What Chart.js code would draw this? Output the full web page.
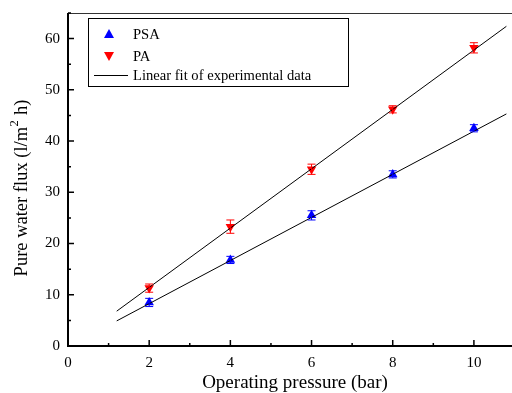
<!DOCTYPE html>
<html>
<head>
<meta charset="utf-8">
<script src="https://cdn.jsdelivr.net/npm/chart.js@4.4.1/dist/chart.umd.min.js"></script>
<style>
  html, body { margin: 0; padding: 0; background: #fff; overflow: hidden; }
  #wrap { width: 520px; height: 393px; }
</style>
</head>
<body>
<div id="wrap"><canvas id="chart" width="520" height="393"></canvas></div>
<script>
const pressure = [2, 4, 6, 8, 10];
const fluxPSA = [8.5, 16.8, 25.5, 33.5, 42.5];
const errPSA = [0.8, 0.7, 0.9, 0.7, 0.7];
const fluxPA = [11.3, 23.3, 34.5, 46.2, 58.2];
const errPA = [0.8, 1.3, 1.0, 0.7, 1.0];

// linear fits, end points of the drawn lines
const fitX = [1.2, 10.8];
const fitPSA = [4.9, 45.3];
const fitPA = [6.8, 62.4];

const xTicks = [0, 2, 4, 6, 8, 10];
const yTicks = [0, 10, 20, 30, 40, 50, 60];

const serif = "'Liberation Serif', 'DejaVu Serif', serif";

const pts = (xs, ys) => xs.map((x, i) => ({ x: x, y: ys[i] }));

// error bars + inward ticks + frame + legend box + axis titles
const extras = {
  id: 'extras',
  afterDatasetsDraw(chart) {
    const ctx = chart.ctx;
    const xs = chart.scales.x, ys = chart.scales.y;
    const bars = [[fluxPSA, errPSA, '#0000ff'], [fluxPA, errPA, '#ff0000']];
    ctx.save();
    ctx.lineWidth = 1;
    bars.forEach(([vals, errs, col]) => {
      ctx.strokeStyle = col;
      pressure.forEach((p, i) => {
        const px = xs.getPixelForValue(p);
        const top = ys.getPixelForValue(vals[i] + errs[i]);
        const bot = ys.getPixelForValue(vals[i] - errs[i]);
        ctx.beginPath();
        ctx.moveTo(px, top); ctx.lineTo(px, bot);
        ctx.moveTo(px - 4, top); ctx.lineTo(px + 4, top);
        ctx.moveTo(px - 4, bot); ctx.lineTo(px + 4, bot);
        ctx.stroke();
      });
    });
    ctx.restore();
  },
  afterDraw(chart) {
    const ctx = chart.ctx;
    const a = chart.chartArea;
    const xs = chart.scales.x, ys = chart.scales.y;
    ctx.save();
    // frame
    ctx.lineWidth = 1;
    ctx.strokeStyle = '#333';
    ctx.beginPath();
    ctx.moveTo(a.left, a.top + 0.5); ctx.lineTo(a.right, a.top + 0.5);
    ctx.lineTo(a.right - 0.5, a.bottom);
    ctx.stroke();
    ctx.strokeStyle = '#000';
    ctx.lineWidth = 2;
    ctx.beginPath();
    ctx.moveTo(a.left, a.top); ctx.lineTo(a.left, a.bottom); ctx.lineTo(a.right, a.bottom);
    ctx.stroke();
    // ticks pointing inward
    ctx.lineWidth = 1.5;
    ctx.beginPath();
    xTicks.forEach(t => {
      const px = xs.getPixelForValue(t);
      ctx.moveTo(px, a.bottom); ctx.lineTo(px, a.bottom - 6);
      const pm = xs.getPixelForValue(t + 1);
      ctx.moveTo(pm, a.bottom); ctx.lineTo(pm, a.bottom - 3);
    });
    yTicks.forEach(t => {
      const py = ys.getPixelForValue(t);
      ctx.moveTo(a.left, py); ctx.lineTo(a.left + 6, py);
      const pm = ys.getPixelForValue(t + 5);
      ctx.moveTo(a.left, pm); ctx.lineTo(a.left + 3, pm);
    });
    ctx.stroke();

    // axis titles
    ctx.fillStyle = '#000';
    ctx.textBaseline = 'middle';
    ctx.textAlign = 'center';
    ctx.font = '19px ' + serif;
    ctx.fillText('Operating pressure (bar)', 295, 383);

    ctx.save();
    ctx.translate(22, 188);
    ctx.rotate(-Math.PI / 2);
    const mainFont = '18.5px ' + serif, supFont = '12.5px ' + serif;
    const p1 = 'Pure water flux (l/m', p2 = '2', p3 = ' h)';
    ctx.font = mainFont;
    const w1 = ctx.measureText(p1).width, w3 = ctx.measureText(p3).width;
    ctx.font = supFont;
    const w2 = ctx.measureText(p2).width;
    let cx = -(w1 + w2 + w3 + 1) / 2;
    ctx.textAlign = 'left';
    ctx.font = mainFont;
    ctx.fillText(p1, cx, 0);
    cx += w1 + 0.5;
    ctx.font = supFont;
    ctx.fillText(p2, cx, -7);
    cx += w2 + 0.5;
    ctx.font = mainFont;
    ctx.fillText(p3, cx, 0);
    ctx.restore();

    // legend box
    const bx = 88, by = 18, bw = 260, bh = 68;
    ctx.fillStyle = '#fff';
    ctx.fillRect(bx, by, bw, bh);
    ctx.lineWidth = 1;
    ctx.strokeStyle = '#000';
    ctx.strokeRect(bx + 0.5, by + 0.5, bw, bh);
    ctx.font = '14.6px ' + serif;
    ctx.textBaseline = 'middle';
    ctx.textAlign = 'left';
    const rows = [
      { y: 34, label: 'PSA', kind: 'up', col: '#0000ff' },
      { y: 56, label: 'PA', kind: 'down', col: '#ff0000' },
      { y: 75, label: 'Linear fit of experimental data', kind: 'line', col: '#000' }
    ];
    rows.forEach(r => {
      ctx.fillStyle = r.col;
      if (r.kind === 'line') {
        ctx.strokeStyle = '#000';
        ctx.lineWidth = 1;
        ctx.beginPath(); ctx.moveTo(94, r.y + 0.5); ctx.lineTo(128, r.y + 0.5); ctx.stroke();
      } else {
        const s = r.kind === 'up' ? 1 : -1;
        ctx.beginPath();
        ctx.moveTo(109, r.y - 5 * s);
        ctx.lineTo(104, r.y + 4 * s);
        ctx.lineTo(114, r.y + 4 * s);
        ctx.closePath(); ctx.fill();
      }
      ctx.fillStyle = '#000';
      ctx.fillText(r.label, 133, r.y + 1);
    });
    ctx.restore();
  }
};

new Chart(document.getElementById('chart'), {
  type: 'scatter',
  data: {
    datasets: [
      {
        label: 'Linear fit PSA',
        data: pts(fitX, fitPSA),
        showLine: true, pointRadius: 0,
        borderColor: '#000', borderWidth: 1
      },
      {
        label: 'Linear fit PA',
        data: pts(fitX, fitPA),
        showLine: true, pointRadius: 0,
        borderColor: '#000', borderWidth: 1
      },
      {
        label: 'PSA',
        data: pts(pressure, fluxPSA),
        pointStyle: 'triangle', pointRadius: 5.5,
        backgroundColor: '#0000ff', borderColor: '#0000ff', borderWidth: 0
      },
      {
        label: 'PA',
        data: pts(pressure, fluxPA),
        pointStyle: 'triangle', rotation: 180, pointRadius: 5.5,
        backgroundColor: '#ff0000', borderColor: '#ff0000', borderWidth: 0
      }
    ]
  },
  options: {
    responsive: false,
    animation: false,
    layout: { padding: { top: 13, right: 5, left: 0, bottom: 0 } },
    plugins: { legend: { display: false }, tooltip: { enabled: false } },
    scales: {
      x: {
        type: 'linear', min: 0, max: 11,
        afterBuildTicks: s => { s.ticks = xTicks.map(v => ({ value: v })); },
        afterFit: s => { s.height = 47; s.paddingLeft = 0; s.paddingRight = 0; },
        grid: { display: false, drawTicks: false },
        border: { display: false },
        ticks: { color: '#000', padding: 8, font: { family: serif, size: 15 } }
      },
      y: {
        type: 'linear', min: 0, max: 65,
        afterBuildTicks: s => { s.ticks = yTicks.map(v => ({ value: v })); },
        afterFit: s => { s.width = 68; s.paddingTop = 0; s.paddingBottom = 0; },
        grid: { display: false, drawTicks: false },
        border: { display: false },
        ticks: { color: '#000', padding: 8, font: { family: serif, size: 15 } }
      }
    }
  },
  plugins: [extras]
});
</script>
</body>
</html>
